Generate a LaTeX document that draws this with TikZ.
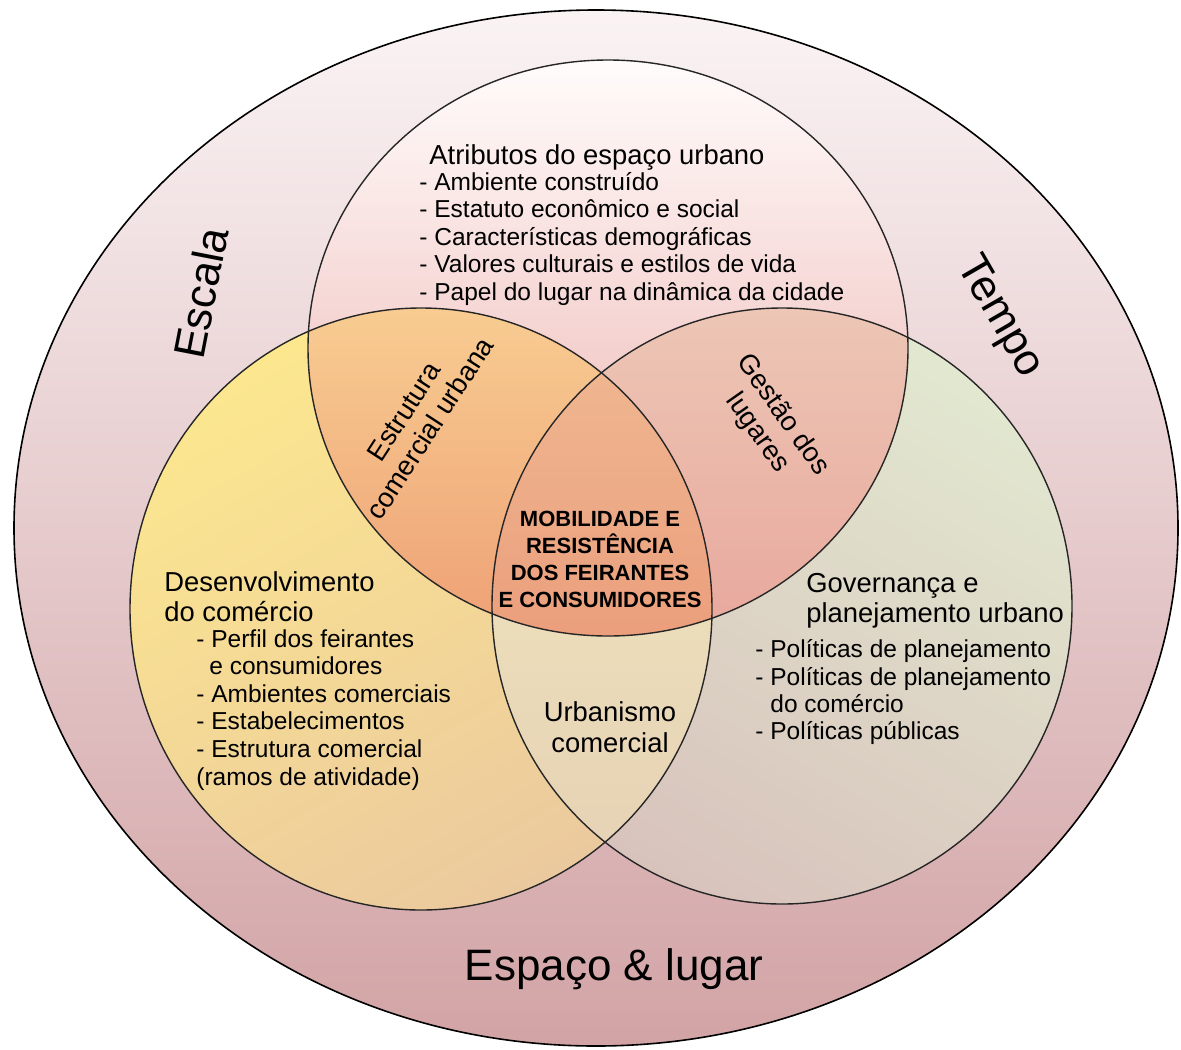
\documentclass[tikz,border=0pt]{standalone}
\usepackage{fontspec}
\setmainfont{Liberation Sans}
\usetikzlibrary{positioning}

\definecolor{ringtop}{HTML}{FAF3F4}
\definecolor{ringbot}{HTML}{D2A3A5}
\definecolor{toptop}{HTML}{FFFCFB}
\definecolor{topmid}{HTML}{F0C0BD}
\definecolor{topbot}{HTML}{E9A7A4}
\definecolor{leftA}{HTML}{FCE78F}
\definecolor{leftB}{HTML}{EBC99E}
\definecolor{rightA}{HTML}{E2E8D0}
\definecolor{rightB}{HTML}{D8C3BC}
\definecolor{lrA}{HTML}{F1E7BF}
\definecolor{lrB}{HTML}{E5D0B4}
\definecolor{tlA}{HTML}{F8CD92}
\definecolor{tlB}{HTML}{EEA075}
\definecolor{trA}{HTML}{EDC7B6}
\definecolor{trB}{HTML}{E8A79C}
\definecolor{midA}{HTML}{EFB690}
\definecolor{midB}{HTML}{EB9E7C}

% the four regions of the diagram
\newcommand{\ringpath}{(596,528) ellipse [x radius=582, y radius=518]}
\newcommand{\toppath}{(608,348) ellipse [x radius=300, y radius=288]}
\newcommand{\leftpath}{(421,609) ellipse [x radius=291, y radius=301]}
\newcommand{\rightpath}{(782,606) ellipse [x radius=290, y radius=298]}

\tikzset{
  heading/.style={font=\fontsize{13.7}{15.5}\selectfont, inner sep=0pt},
  item/.style={font=\fontsize{12.25}{13.75}\selectfont, inner sep=0pt, anchor=base west},
  core/.style={font=\fontsize{11}{13.5}\selectfont\bfseries, inner sep=0pt, align=center},
  bigword/.style={font=\fontsize{22}{26}\selectfont, inner sep=0pt},
  rim/.style={draw=black, line width=0.8pt},
  edge/.style={draw=black!85, line width=0.7pt}
}

\begin{document}
\begin{tikzpicture}[x=0.5pt, y=-0.5pt]
  \useasboundingbox (0,0) rectangle (1181,1049);
  \fill[white] (0,0) rectangle (1181,1049);

  % fills
  \shade[top color=ringtop, bottom color=ringbot] \ringpath;
  \shade[top color=toptop, middle color=topmid, bottom color=topbot] \toppath;
  \shade[top color=leftA, bottom color=leftB, shading angle=30] \leftpath;
  \shade[top color=rightA, bottom color=rightB, shading angle=-30] \rightpath;
  \begin{scope}
    \clip \leftpath; \clip \rightpath;
    \shade[top color=lrA, bottom color=lrB] (490,370) rectangle (715,912);
  \end{scope}
  \begin{scope}
    \clip \toppath; \clip \leftpath;
    \shade[top color=tlA, bottom color=tlB] (300,300) rectangle (720,640);
  \end{scope}
  \begin{scope}
    \clip \toppath; \clip \rightpath;
    \shade[top color=trA, bottom color=trB] (490,300) rectangle (915,640);
  \end{scope}
  \begin{scope}
    \clip \toppath; \clip \leftpath; \clip \rightpath;
    \shade[top color=midA, bottom color=midB] (490,370) rectangle (715,640);
  \end{scope}

  % outlines
  \path[rim] \ringpath;
  \path[edge] \toppath;
  \path[edge] \leftpath;
  \path[edge] \rightpath;

  % top circle
  \node[heading, anchor=base west] (atrib) at (429,164) {Atributos do espaço urbano};
  \foreach \txt [count=\i] in {- Ambiente construído, - Estatuto econômico e social,
      - Características demográficas, - Valores culturais e estilos de vida,
      - Papel do lugar na dinâmica da cidade}
    \node[item] (atrib\i) at (419,{190+27.5*(\i-1)}) {\txt};

  % left circle
  \node[heading, anchor=base west] (desenv) at (164,591) {Desenvolvimento};
  \node[heading, anchor=base west] (desenv0) at (164,621) {do comércio};
  \node[item] (desenv1) at (196,647) {- Perfil dos feirantes};
  \node[item] (desenv2) at (209,674) {e consumidores};
  \node[item] (desenv3) at (196,702) {- Ambientes comerciais};
  \node[item] (desenv4) at (196,729) {- Estabelecimentos};
  \node[item] (desenv5) at (196,757) {- Estrutura comercial};
  \node[item] (desenv6) at (196,785) {(ramos de atividade)};

  % right circle
  \node[heading, anchor=base west] (gov) at (806,592) {Governança e};
  \node[heading, anchor=base west] (gov0) at (806,622) {planejamento urbano};
  \node[item] (gov1) at (755,657) {- Políticas de planejamento};
  \node[item] (gov2) at (755,685) {- Políticas de planejamento};
  \node[item] (gov3) at (770,712) {do comércio};
  \node[item] (gov4) at (755,739) {- Políticas públicas};

  % overlaps
  \node[heading, align=center, rotate=57] (estrut) at (417,420) {Estrutura\\comercial urbana};
  \node[heading, align=center, rotate=-55] (gestao) at (770,424) {Gestão dos\\lugares};
  \node[heading, align=center] (urban) at (610,727) {Urbanismo\\comercial};
  \node[core] (mob) at (600,559) {MOBILIDADE E\\RESISTÊNCIA\\DOS FEIRANTES\\E CONSUMIDORES};

  % outer ring
  \node[bigword, rotate=79] (escala) at (201,293) {Escala};
  \node[bigword, rotate=-60] (tempo) at (999,317) {Tempo};
  \node[bigword, anchor=base] (espaco) at (614,980) {Espaço \& lugar};
\end{tikzpicture}
\end{document}
